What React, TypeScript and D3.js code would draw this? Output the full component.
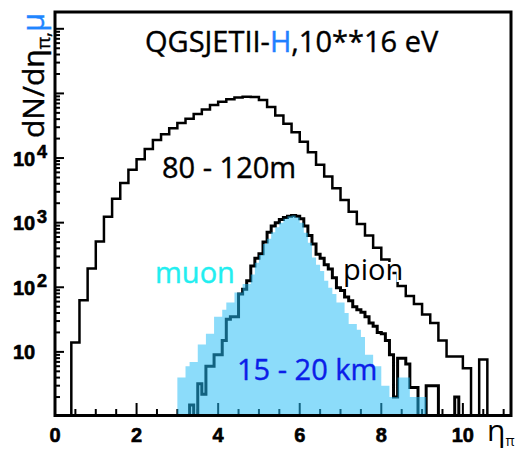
import React from 'react';
import * as d3 from 'd3';

const W = 520;
const H = 462;

// x-axis tick labels (eta)
const xMajorTicks = [0, 2, 4, 6, 8, 10];
const xTickLabels = ['0', '2', '4', '6', '8', '10'];
// y-axis labelled decades: value exponent and label exponent text
const yLabelExps = [1, 2, 3, 4];
const yLabelSup = ['', '2', '3', '4'];

// 80 - 120 m histogram (bin width 0.2 starting at eta = 0.4)
const outerStart = 0.4;
const outerBin = 0.2;
const outerCounts = [
  14, 63, 195, 510, 1230, 2350, 4100, 6600, 9600, 13800,
  19000, 23400, 28800, 34700, 40700, 47900, 56200, 66000, 74100, 81300,
  86100, 89100, 88100, 79400, 61700, 45700, 33900, 25100, 17800, 12300,
  7900, 5200, 3400, 2240, 1480, 950, 630, 410, 270, 166,
  105, 73, 55, 38, 28, 15, 8.5, 8.5, 5.6, 0,
  7.6,
];

// 15 - 20 km muon histogram (bin width 0.1 starting at eta = 3.0)
const muonStart = 3.0;
const muonBin = 0.1;
const muonCounts = [
  4, 4, 6, 7, 7, 13, 13, 19, 19, 35,
  35, 45, 58, 58, 83, 83, 112, 112, 158, 240,
  316, 468, 562, 708, 850, 1000, 1150, 1260, 1290, 1200,
  1000, 700, 490, 290, 224, 178, 126, 98, 79, 58,
  58, 40, 27, 27, 22, 17, 9, 9, 6, 6,
  3, 3, 2, 2, 4, 4, 4, 2, 2, 2,
  2,
];

// 15 - 20 km pion histogram (bin width 0.1 starting at eta = 3.3)
const pionStart = 3.3;
const pionBin = 0.1;
const pionCounts = [
  1.5, 0, 3.2, 2.2, 6, 6, 9, 9, 15, 32,
  35, 35, 79, 93, 126, 214, 282, 331, 501, 708,
  891, 1000, 1122, 1202, 1259, 1288, 1259, 1148, 891, 631,
  468, 324, 282, 224, 191, 141, 98, 89, 71, 62,
  50, 45, 41, 35, 28, 25, 20, 19, 15, 9,
  2, 8, 8, 6.5, 2.8, 2.8, 0, 0, 3, 3,
  3, 0, 0, 0, 0, 2,
];

const x = d3.scaleLinear().domain([0, 11.18]).range([55, 511]);
const y = d3.scaleLog().domain([1, 1.82e6]).range([416.5, 12]);

function stepPoints(start: number, bin: number, counts: number[]): [number, number][] {
  const pts: [number, number][] = [[start, 1]];
  counts.forEach((c, i) => {
    const v = c > 1 ? c : 1;
    pts.push([start + i * bin, v]);
    pts.push([start + (i + 1) * bin, v]);
  });
  pts.push([start + counts.length * bin, 1]);
  return pts;
}

const line = d3
  .line<[number, number]>()
  .x((d) => x(d[0]))
  .y((d) => y(d[1]));

export default function App() {
  const [x0, x1] = x.range();
  const [y0, y1] = y.range();

  const xMinor = d3.range(0.5, 11.01, 0.5).filter((v) => Math.abs(v / 2 - Math.round(v / 2)) > 1e-6);
  const yMinor: number[] = [];
  for (let e = 0; e <= 6; e++) {
    for (let k = 2; k <= 9; k++) {
      const v = k * Math.pow(10, e);
      if (v < y.domain()[1]) yMinor.push(v);
    }
  }
  const yMajor = [10, 100, 1000, 1e4, 1e5, 1e6];

  const outerPath = line(stepPoints(outerStart, outerBin, outerCounts)) || '';
  const pionPath = line(stepPoints(pionStart, pionBin, pionCounts)) || '';
  const muonPath = (line(stepPoints(muonStart, muonBin, muonCounts)) || '') + 'Z';

  const font = "'Open Sans', 'Noto Sans', sans-serif";
  const tickFont = "'Liberation Sans', Arial, sans-serif";

  return (
    <svg width={W} height={H} style={{ position: 'absolute', left: 0, top: 0, background: '#fff' }}>
      <defs>
        <clipPath id="plot">
          <rect x={x0} y={y1} width={x1 - x0} height={y0 - y1} />
        </clipPath>
      </defs>
      <rect x={0} y={0} width={W} height={H} fill="#fff" />

      {/* ticks */}
      <g stroke="#000" strokeWidth={2}>
        {xMajorTicks.map((t) => (
          <line key={'xM' + t} x1={x(t)} x2={x(t)} y1={415} y2={403} />
        ))}
        {xMinor.map((t) => (
          <line key={'xm' + t} x1={x(t)} x2={x(t)} y1={415} y2={409} />
        ))}
        {yMajor.map((t) => (
          <line key={'yM' + t} x1={55} x2={64} y1={y(t)} y2={y(t)} />
        ))}
        {yMinor.map((t) => (
          <line key={'ym' + t} x1={55} x2={60} y1={y(t)} y2={y(t)} />
        ))}
      </g>

      <g clipPath="url(#plot)">
        <path d={outerPath} fill="none" stroke="#000" strokeWidth={2.5} strokeLinejoin="miter" />
        <path d={pionPath} fill="none" stroke="#000" strokeWidth={3} strokeLinejoin="miter" />
        <path d={muonPath} fill="rgb(34,188,245)" fillOpacity={0.52} stroke="none" />
      </g>

      {/* frame */}
      <rect x={55} y={12} width={456} height={403.5} fill="none" stroke="#000" strokeWidth={3} />

      {/* x tick labels */}
      <g fontFamily={tickFont} fontWeight="bold" fontSize={20} textAnchor="middle" stroke="#000" strokeWidth={0.6}>
        {xMajorTicks.map((t, i) => (
          <text key={'xl' + t} x={x(t)} y={442}>
            {xTickLabels[i]}
          </text>
        ))}
      </g>
      {/* y tick labels */}
      <g fontFamily={tickFont} fontWeight="bold" fontSize={20} stroke="#000" strokeWidth={0.6}>
        {yLabelExps.map((e, i) => (
          <g key={'yl' + e}>
            <text x={13} y={y(Math.pow(10, e)) + 7.5}>10</text>
            {yLabelSup[i] && (
              <text x={37} y={y(Math.pow(10, e))} fontSize={18}>
                {yLabelSup[i]}
              </text>
            )}
          </g>
        ))}
      </g>

      {/* axis titles */}
      <text transform="translate(44,138) rotate(-90)" fontFamily={font} fontSize={30} fill="#000" stroke="#000" strokeWidth={0.4}>
        dN/dη
        <tspan fontSize={19} dy={6}>π,</tspan>
        <tspan dy={-6} fill="#1f86ff" stroke="#1f86ff" fontSize={31}>μ</tspan>
      </text>
      <text x={487} y={441} fontFamily={font} fontSize={30} fill="#000">
        η<tspan fontSize={14} dy={5}>π</tspan>
      </text>

      {/* labels */}
      <g fontFamily={font} fontSize={29} strokeWidth={0.4}>
        <text x={145} y={52} fill="#000" stroke="#000">
          QGSJETII-<tspan fill="#1f7fff" stroke="#1f7fff">H</tspan>,10**16 eV
        </text>
        <text x={162} y={178} fill="#000" stroke="#000">
          80 - 120m
        </text>
        <text x={155} y={283} fill="#22eef0" stroke="#22eef0">
          muon
        </text>
        <text x={343} y={280} fill="#000" stroke="#fff" strokeWidth={4} paintOrder="stroke">
          pion
        </text>
        <text x={237} y={380} fill="#0b1ee8" stroke="#0b1ee8">
          15 - 20 km
        </text>
      </g>
    </svg>
  );
}
